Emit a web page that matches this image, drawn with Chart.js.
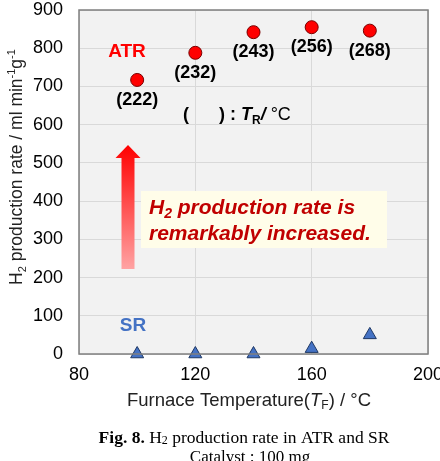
<!DOCTYPE html>
<html>
<head>
<meta charset="utf-8">
<script src="https://cdn.jsdelivr.net/npm/chart.js@4.4.0/dist/chart.umd.min.js"></script>
<style>
html, body { margin: 0; padding: 0; background: #fff; }
#wrap { width: 440px; height: 461px; }
</style>
</head>
<body>
<div id="wrap"><canvas id="h2Chart" width="440" height="461"></canvas></div>
<script>
// data
const furnaceTemps = [100, 120, 140, 160, 180];
const atrRates = [717, 788, 842, 855, 846];
const srRates = [0, 0, 0, 14, 50];
const reactorTemps = [222, 232, 243, 256, 268];
const xRange = [80, 200];
const yRange = [0, 900];

const SANS = '"Liberation Sans", Arial, sans-serif';
const SERIF = '"Liberation Serif", "Times New Roman", serif';

// draw a row of differently styled text pieces
function drawRuns(c, runs, x, y, align) {
    let total = 0;
    for (const r of runs) {
        c.font = r.font;
        r.w = c.measureText(r.text).width;
        total += r.w;
    }
    let cx = align === 'center' ? x - total / 2 : x;
    c.textAlign = 'left';
    c.textBaseline = 'alphabetic';
    for (const r of runs) {
        c.font = r.font;
        c.fillStyle = r.color || '#000';
        c.fillText(r.text, cx, y + (r.dy || 0));
        cx += r.w;
    }
}

function noPad(s) {
    s.paddingLeft = 0;
    s.paddingRight = 0;
    s.paddingTop = 0;
    s.paddingBottom = 0;
}

const decorPlugin = {
    id: 'decor',
    beforeDraw(chart) {
        const {ctx, chartArea: a} = chart;
        ctx.save();
        ctx.fillStyle = '#f2f2f2';
        ctx.fillRect(a.left, a.top, a.right - a.left, a.bottom - a.top);
        ctx.restore();
    },
    beforeDatasetsDraw(chart) {
        const ctx = chart.ctx;
        ctx.save();
        // big arrow
        const g = ctx.createLinearGradient(0, 145, 0, 269);
        g.addColorStop(0, '#ff0000');
        g.addColorStop(1, '#ffa3a3');
        ctx.fillStyle = g;
        ctx.beginPath();
        ctx.moveTo(128, 145);
        ctx.lineTo(140.5, 158);
        ctx.lineTo(134.5, 158);
        ctx.lineTo(134.5, 269);
        ctx.lineTo(121.5, 269);
        ctx.lineTo(121.5, 158);
        ctx.lineTo(115.5, 158);
        ctx.closePath();
        ctx.fill();
        // note box
        ctx.fillStyle = '#fffde9';
        ctx.fillRect(141, 191, 246, 57);
        const bi = 'italic bold 21px ' + SANS;
        drawRuns(ctx, [
            {text: 'H', font: bi, color: '#c00000'},
            {text: '2', font: 'italic bold 14px ' + SANS, dy: 4, color: '#c00000'},
            {text: ' production rate is', font: bi, color: '#c00000'}
        ], 149, 214, 'left');
        drawRuns(ctx, [{text: 'remarkably increased.', font: bi, color: '#c00000'}], 149, 240, 'left');
        ctx.restore();
    },
    afterDraw(chart) {
        const {ctx, chartArea: a, scales} = chart;
        ctx.save();
        // frame
        ctx.strokeStyle = '#7f7f7f';
        ctx.lineWidth = 1.5;
        ctx.strokeRect(a.left, a.top, a.right - a.left, a.bottom - a.top);

        // reactor temperature labels under ATR points
        ctx.fillStyle = '#000';
        ctx.font = 'bold 18px ' + SANS;
        ctx.textAlign = 'center';
        ctx.textBaseline = 'middle';
        furnaceTemps.forEach((t, i) => {
            const px = scales.x.getPixelForValue(t);
            const py = scales.y.getPixelForValue(atrRates[i]);
            ctx.fillText('(' + reactorTemps[i] + ')', px, py + 20);
        });

        // series names
        ctx.font = 'bold 19px ' + SANS;
        ctx.fillStyle = '#ff0000';
        ctx.fillText('ATR', 127, 52);
        ctx.fillStyle = '#4472c4';
        ctx.fillText('SR', 133, 326);

        // legend for brackets
        const b = 'bold 18px ' + SANS;
        drawRuns(ctx, [
            {text: '(      ) : ', font: b},
            {text: 'T', font: 'italic bold 18px ' + SANS},
            {text: 'R', font: 'bold 12px ' + SANS, dy: 4},
            {text: '/ ', font: 'italic bold 18px ' + SANS},
            {text: '°C', font: '18px ' + SANS}
        ], 183, 120, 'left');

        // y title
        ctx.save();
        ctx.translate(22, 167);
        ctx.rotate(-Math.PI / 2);
        drawRuns(ctx, [
            {text: 'H', font: '17.5px ' + SANS, color: '#222'},
            {text: '2', font: '11px ' + SANS, dy: 4, color: '#222'},
            {text: ' production rate / ml min', font: '17.5px ' + SANS, color: '#222'},
            {text: '-1', font: '11px ' + SANS, dy: -7, color: '#222'},
            {text: 'g', font: '17.5px ' + SANS, color: '#222'},
            {text: '-1', font: '11px ' + SANS, dy: -7, color: '#222'}
        ], 0, 0, 'center');
        ctx.restore();

        // x title
        drawRuns(ctx, [
            {text: 'Furnace Temperature(', font: '18.5px ' + SANS, color: '#222'},
            {text: 'T', font: 'italic 18.5px ' + SANS, color: '#222'},
            {text: 'F', font: '12px ' + SANS, dy: 3, color: '#222'},
            {text: ') / °C', font: '18.5px ' + SANS, color: '#222'}
        ], 249, 406, 'center');

        // caption
        drawRuns(ctx, [
            {text: 'Fig. 8.', font: 'bold 17.5px ' + SERIF},
            {text: ' H', font: '17.5px ' + SERIF},
            {text: '2', font: '12px ' + SERIF, dy: 1},
            {text: ' production rate in ATR and SR', font: '17.5px ' + SERIF}
        ], 244, 443, 'center');
        drawRuns(ctx, [{text: 'Catalyst : 100 mg', font: '17px ' + SERIF}], 250, 462, 'center');
        ctx.restore();
    }
};

const ctx = document.getElementById('h2Chart').getContext('2d');
const h2Chart = new Chart(ctx, {
    type: 'scatter',
    data: {
        datasets: [{
                label: 'ATR',
                data: furnaceTemps.map((t, i) => ({x: t, y: atrRates[i]})),
                pointStyle: 'circle',
                pointRadius: 6.5,
                backgroundColor: '#ff0000',
                borderColor: '#7a0000',
                borderWidth: 1,
                clip: false
            }, {
                label: 'SR',
                data: furnaceTemps.map((t, i) => ({x: t, y: srRates[i]})),
                pointStyle: 'triangle',
                pointRadius: 7.5,
                backgroundColor: '#4472c4',
                borderColor: '#1f3864',
                borderWidth: 1,
                clip: false
            }]
    },
    options: {
        responsive: false,
        animation: false,
        layout: {
            autoPadding: false,
            padding: {top: 10, right: 12, left: 0, bottom: 0}
        },
        plugins: {
            legend: {display: false},
            tooltip: {enabled: false}
        },
        scales: {
            x: {
                type: 'linear',
                min: xRange[0],
                max: xRange[1],
                afterFit: s => { s.height = 107; noPad(s); },
                ticks: {stepSize: 40, padding: 10, color: '#000', font: {family: SANS, size: 18}},
                grid: {color: '#d9d9d9', drawTicks: false},
                border: {display: false}
            },
            y: {
                min: yRange[0],
                max: yRange[1],
                afterFit: s => { s.width = 79; noPad(s); },
                ticks: {stepSize: 100, padding: 16, color: '#000', font: {family: SANS, size: 18}},
                grid: {color: '#d9d9d9', drawTicks: false},
                border: {display: false}
            }
        }
    },
    plugins: [decorPlugin]
});
</script>
</body>
</html>
